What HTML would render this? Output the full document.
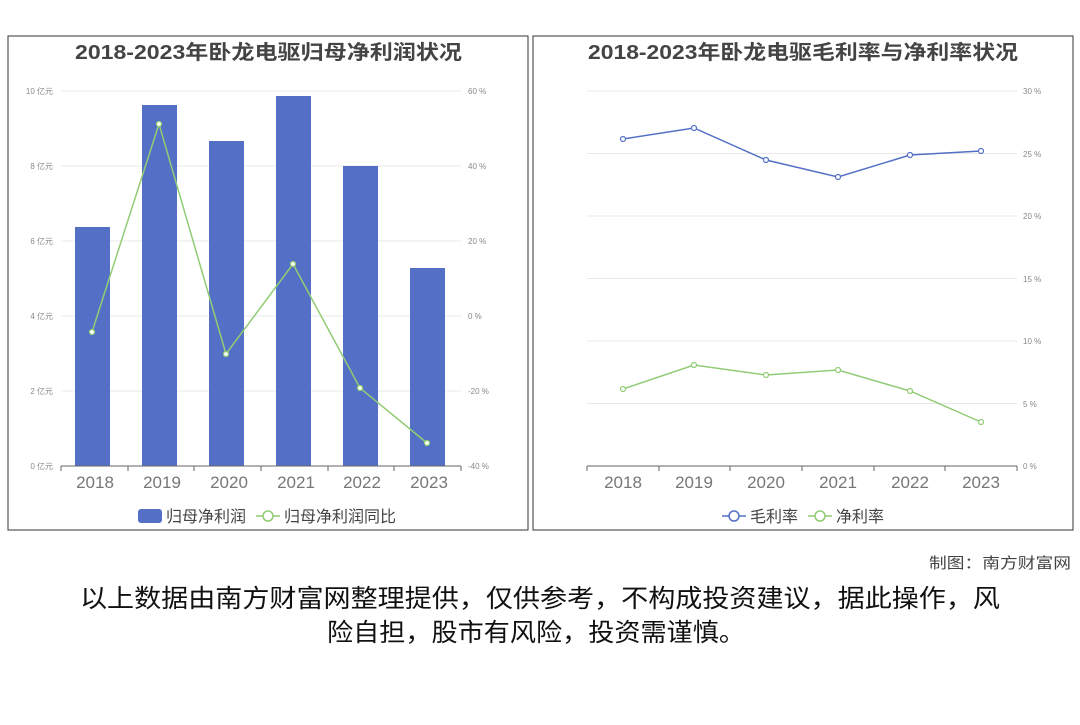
<!DOCTYPE html>
<html><head><meta charset="utf-8"><style>
body{margin:0;width:1080px;height:720px;background:#fff;font-family:"Liberation Sans","Noto Sans CJK SC",sans-serif;overflow:hidden}
svg text{font-family:"Liberation Sans","Noto Sans CJK SC",sans-serif}
</style></head><body>
<svg width="1080" height="720" xmlns="http://www.w3.org/2000/svg">
<rect x="8" y="36" width="520" height="494" fill="#fff" stroke="#333" stroke-width="1"/>
<rect x="533" y="36" width="540" height="494" fill="#fff" stroke="#333" stroke-width="1"/>
<text x="75" y="59" textLength="387" lengthAdjust="spacingAndGlyphs" font-size="20" font-weight="bold" fill="#444">2018-2023年卧龙电驱归母净利润状况</text>
<text x="588" y="59" textLength="430" lengthAdjust="spacingAndGlyphs" font-size="20" font-weight="bold" fill="#444">2018-2023年卧龙电驱毛利率与净利率状况</text>
<g stroke="#e8e8e8" stroke-width="1">
<line x1="61" y1="91" x2="461" y2="91"/><line x1="61" y1="166" x2="461" y2="166"/><line x1="61" y1="241" x2="461" y2="241"/><line x1="61" y1="316" x2="461" y2="316"/><line x1="61" y1="391" x2="461" y2="391"/>
<line x1="587" y1="91" x2="1017" y2="91"/><line x1="587" y1="153.5" x2="1017" y2="153.5"/><line x1="587" y1="216" x2="1017" y2="216"/><line x1="587" y1="278.5" x2="1017" y2="278.5"/><line x1="587" y1="341" x2="1017" y2="341"/><line x1="587" y1="403.5" x2="1017" y2="403.5"/>
</g>
<g font-size="8" fill="#888">
<text x="53" y="94" text-anchor="end">10 亿元</text><text x="53" y="169" text-anchor="end">8 亿元</text><text x="53" y="244" text-anchor="end">6 亿元</text><text x="53" y="319" text-anchor="end">4 亿元</text><text x="53" y="394" text-anchor="end">2 亿元</text><text x="53" y="469" text-anchor="end">0 亿元</text>
<text x="468" y="94">60 %</text><text x="468" y="169">40 %</text><text x="468" y="244">20 %</text><text x="468" y="319">0 %</text><text x="468" y="394">-20 %</text><text x="468" y="469">-40 %</text>
<text x="1023" y="94">30 %</text><text x="1023" y="157">25 %</text><text x="1023" y="219">20 %</text><text x="1023" y="282">15 %</text><text x="1023" y="344">10 %</text><text x="1023" y="407">5 %</text><text x="1023" y="469">0 %</text>
</g>
<g fill="#5470c6">
<rect x="75" y="227" width="35" height="239"/><rect x="142" y="105" width="35" height="361"/><rect x="209" y="141" width="35" height="325"/><rect x="276" y="96" width="35" height="370"/><rect x="343" y="166" width="35" height="300"/><rect x="410" y="268" width="35" height="198"/>
</g>
<g stroke="#666" stroke-width="1">
<line x1="61" y1="466" x2="461" y2="466"/>
<line x1="61" y1="466" x2="61" y2="471"/><line x1="128" y1="466" x2="128" y2="471"/><line x1="194" y1="466" x2="194" y2="471"/><line x1="261" y1="466" x2="261" y2="471"/><line x1="328" y1="466" x2="328" y2="471"/><line x1="394" y1="466" x2="394" y2="471"/><line x1="461" y1="466" x2="461" y2="471"/>
<line x1="587" y1="466" x2="1017" y2="466"/>
<line x1="587" y1="466" x2="587" y2="471"/><line x1="659" y1="466" x2="659" y2="471"/><line x1="730" y1="466" x2="730" y2="471"/><line x1="802" y1="466" x2="802" y2="471"/><line x1="874" y1="466" x2="874" y2="471"/><line x1="945" y1="466" x2="945" y2="471"/><line x1="1017" y1="466" x2="1017" y2="471"/>
</g>
<polyline points="92,332 159,124 226,354 293,264 360,388 427,443" fill="none" stroke="#91cc75" stroke-width="1.5"/>
<g fill="#fff" stroke="#91cc75" stroke-width="1.2"><circle cx="92" cy="332" r="2.5"/><circle cx="159" cy="124" r="2.5"/><circle cx="226" cy="354" r="2.5"/><circle cx="293" cy="264" r="2.5"/><circle cx="360" cy="388" r="2.5"/><circle cx="427" cy="443" r="2.5"/></g>
<polyline points="623,139 694,128 766,160 838,177 910,155 981,151" fill="none" stroke="#5470c6" stroke-width="1.5"/>
<g fill="#fff" stroke="#5470c6" stroke-width="1.2"><circle cx="623" cy="139" r="2.5"/><circle cx="694" cy="128" r="2.5"/><circle cx="766" cy="160" r="2.5"/><circle cx="838" cy="177" r="2.5"/><circle cx="910" cy="155" r="2.5"/><circle cx="981" cy="151" r="2.5"/></g>
<polyline points="623,389 694,365 766,375 838,370 910,391 981,422" fill="none" stroke="#91cc75" stroke-width="1.5"/>
<g fill="#fff" stroke="#91cc75" stroke-width="1.2"><circle cx="623" cy="389" r="2.5"/><circle cx="694" cy="365" r="2.5"/><circle cx="766" cy="375" r="2.5"/><circle cx="838" cy="370" r="2.5"/><circle cx="910" cy="391" r="2.5"/><circle cx="981" cy="422" r="2.5"/></g>
<g font-size="17" fill="#777" text-anchor="middle">
<text x="95" y="488">2018</text><text x="162" y="488">2019</text><text x="229" y="488">2020</text><text x="296" y="488">2021</text><text x="362" y="488">2022</text><text x="429" y="488">2023</text>
<text x="623" y="488">2018</text><text x="694" y="488">2019</text><text x="766" y="488">2020</text><text x="838" y="488">2021</text><text x="910" y="488">2022</text><text x="981" y="488">2023</text>
</g>
<g font-size="16" fill="#444">
<rect x="138" y="509" width="24" height="14" rx="3" fill="#5470c6"/><text x="166" y="522">归母净利润</text>
<line x1="256" y1="516" x2="280" y2="516" stroke="#91cc75" stroke-width="1.5"/><circle cx="268" cy="516" r="5" fill="#fff" stroke="#91cc75" stroke-width="1.5"/><text x="284" y="522">归母净利润同比</text>
<line x1="722" y1="516" x2="746" y2="516" stroke="#5470c6" stroke-width="1.5"/><circle cx="734" cy="516" r="5" fill="#fff" stroke="#5470c6" stroke-width="1.5"/><text x="750" y="522">毛利率</text>
<line x1="808" y1="516" x2="832" y2="516" stroke="#91cc75" stroke-width="1.5"/><circle cx="820" cy="516" r="5" fill="#fff" stroke="#91cc75" stroke-width="1.5"/><text x="836" y="522">净利率</text>
</g>
<text x="929" y="568" textLength="142" lengthAdjust="spacingAndGlyphs" font-size="15" fill="#444">制图：南方财富网</text>
<text x="80" y="607" textLength="920" lengthAdjust="spacingAndGlyphs" font-size="25" fill="#111">以上数据由南方财富网整理提供，仅供参考，不构成投资建议，据此操作，风</text>
<text x="327" y="641" textLength="418" lengthAdjust="spacingAndGlyphs" font-size="25" fill="#111">险自担，股市有风险，投资需谨慎。</text>
</svg>
</body></html>
